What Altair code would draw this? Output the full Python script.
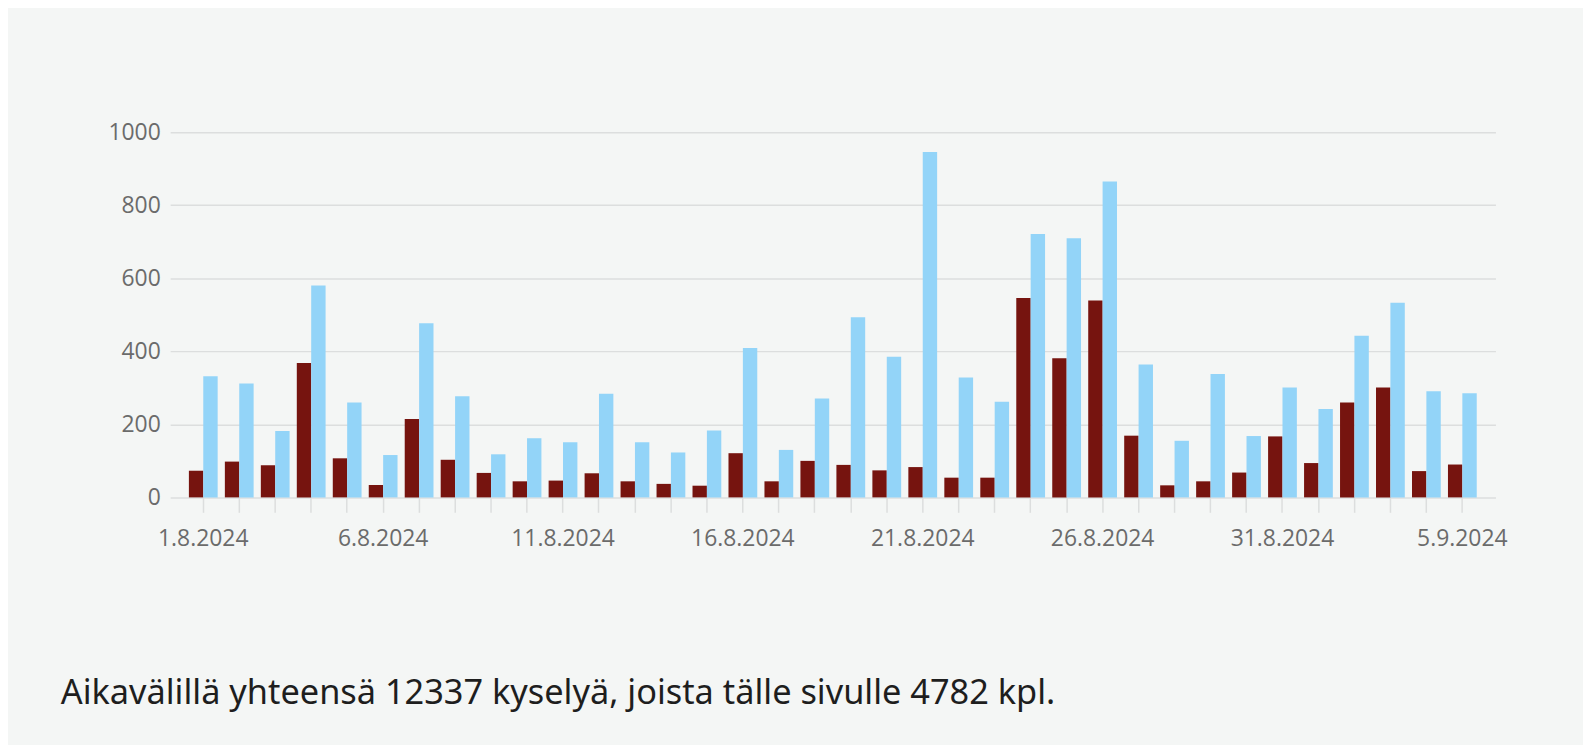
import altair as alt
import pandas as pd

days = [f"{d}.8.2024" for d in range(1, 32)] + [f"{d}.9.2024" for d in range(1, 6)]
page_counts = [73, 98, 88, 368, 107, 34, 215, 103, 67, 44,
               46, 66, 44, 37, 32, 121, 44, 100, 89, 74,
               83, 54, 54, 546, 381, 539, 169, 33, 44, 68,
               167, 94, 260, 301, 72, 90]
total_counts = [332, 312, 182, 580, 260, 116, 477, 277, 118, 162,
                151, 284, 151, 123, 183, 409, 130, 271, 493, 385,
                946, 328, 262, 721, 710, 865, 364, 155, 338, 168,
                301, 242, 443, 533, 291, 285]
series_names = ["tälle sivulle", "yhteensä"]
series_colors = ["#76140f", "#93d4f8"]
labeled_days = ["1.8.2024", "6.8.2024", "11.8.2024", "16.8.2024", "21.8.2024",
                "26.8.2024", "31.8.2024", "5.9.2024"]
y_ticks = [0, 200, 400, 600, 800, 1000]
caption = "Aikavälillä yhteensä 12337 kyselyä, joista tälle sivulle 4782 kpl."

rows = []
for i, d in enumerate(days):
    rows.append({"day": d, "series": series_names[0], "order": 0, "value": page_counts[i]})
    rows.append({"day": d, "series": series_names[1], "order": 1, "value": total_counts[i]})
df = pd.DataFrame(rows)

label_list = "[" + ",".join(f"'{d}'" for d in labeled_days) + "]"

axis_font = "Open Sans"

chart = alt.Chart(df).mark_bar().encode(
    x=alt.X("day:N", sort=days, title=None,
            scale=alt.Scale(paddingInner=0.2, paddingOuter=0.52),
            axis=alt.Axis(labelAngle=0, domain=False, ticks=True, tickSize=15,
                          tickColor="#dcdede", tickWidth=1.5,
                          labelExpr=f"indexof({label_list}, datum.value) >= 0 ? datum.label : ''",
                          labelFont=axis_font, labelFontSize=23, labelColor="#6b6b6b",
                          labelPadding=15, labelOverlap=False, labelFlush=False)),
    xOffset=alt.XOffset("series:N", sort=series_names, scale=alt.Scale(paddingInner=0, paddingOuter=0)),
    y=alt.Y("value:Q", title=None,
            scale=alt.Scale(domain=[0, 1000], nice=False),
            axis=alt.Axis(values=y_ticks, format="d", domain=False, ticks=False, grid=True,
                          gridColor="#dcdede", gridWidth=1.5,
                          labelFont=axis_font, labelFontSize=23, labelColor="#6b6b6b",
                          labelPadding=10)),
    color=alt.Color("series:N", scale=alt.Scale(domain=series_names, range=series_colors), legend=None),
).properties(
    width=1332,
    height=367,
    background="#f4f6f5",
    padding={"left": 163, "top": 123, "right": 88, "bottom": 247},
    autosize=alt.AutoSizeParams(type="none"),
    title=alt.TitleParams(caption, orient="bottom", anchor="start", frame="group",
                          font="Noto Sans", fontSize=34.5, fontWeight="normal",
                          color="#1e1e1e", offset=128, dx=-110),
).configure_view(stroke=None)

chart.save("out.html", embed_options={"renderer": "svg", "actions": False})
